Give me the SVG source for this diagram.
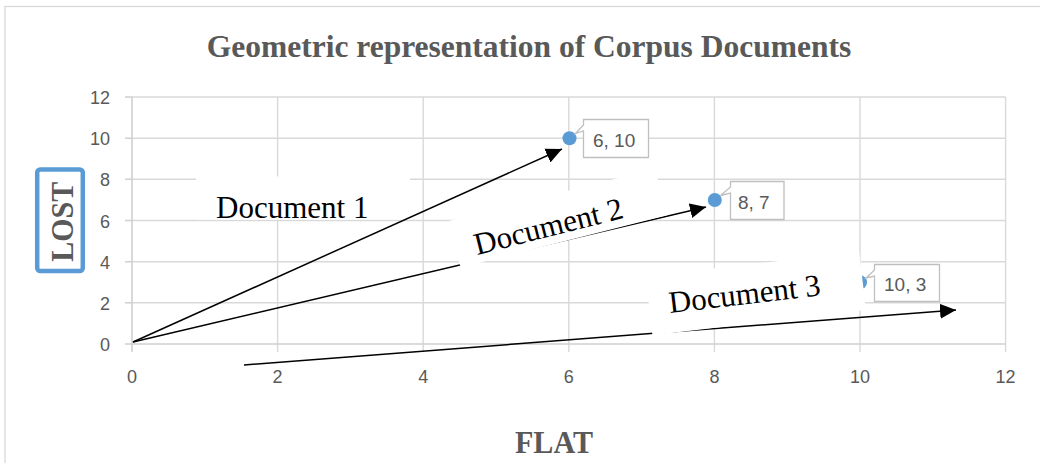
<svg xmlns="http://www.w3.org/2000/svg" width="1040" height="463" viewBox="0 0 1040 463">
<style>
.grid{stroke:#D9D9D9;stroke-width:1.4;fill:none}
.axis{stroke:#D0D0D0;stroke-width:1.6;fill:none}
.tick{font-family:"Liberation Sans",Arial,sans-serif;font-size:18px;fill:#595959}
.dl{font-family:"Liberation Sans",Arial,sans-serif;font-size:19px;fill:#595959}
.ttl{font-family:"Liberation Serif","Times New Roman",serif;font-weight:bold;fill:#595959}
.doc{font-family:"Liberation Serif","Times New Roman",serif;font-size:31px;fill:#000}
.box{fill:#fff;stroke:none}
.lbl{fill:#fff;stroke:#BFBFBF;stroke-width:1.3}
.pt{fill:#5B9BD5}
.arr{stroke:#000;stroke-width:1.5;fill:none;marker-end:url(#ah)}
</style>
<defs>
<marker id="ah" markerUnits="userSpaceOnUse" markerWidth="16" markerHeight="16" viewBox="0 0 16 16" refX="16" refY="8" orient="auto">
<path d="M0,0.5 L16,8 L0,15.5 Z" fill="#000"/>
</marker>
</defs>
<rect x="0" y="0" width="1040" height="463" fill="#fff"/>
<rect x="5" y="6.5" width="1045" height="470" fill="none" stroke="#D9D9D9" stroke-width="1.3"/>
<text class="ttl" x="529" y="57" font-size="31.5" text-anchor="middle">Geometric representation of Corpus Documents</text>
<g id="grid">
<path class="grid" d="M132,97H1005.6M132,138.2H1005.6M132,179.3H1005.6M132,220.5H1005.6M132,261.7H1005.6M132,302.8H1005.6"/>
<path class="grid" d="M277.6,97V352M423.2,97V352M568.8,97V352M714.4,97V352M860,97V352M1005.6,97V352"/>
<path class="axis" d="M125,344H1005.6M132,97V352M125,97H132M125,138.2H132M125,179.3H132M125,220.5H132M125,261.7H132M125,302.8H132"/>
</g>
<g id="yticks" class="tick" text-anchor="end">
<text x="110" y="104">12</text>
<text x="110" y="145.2">10</text>
<text x="110" y="186.3">8</text>
<text x="110" y="227.5">6</text>
<text x="110" y="268.7">4</text>
<text x="110" y="309.8">2</text>
<text x="110" y="351">0</text>
</g>
<g id="xticks" class="tick" text-anchor="middle">
<text x="132" y="383">0</text>
<text x="277.6" y="383">2</text>
<text x="423.2" y="383">4</text>
<text x="568.8" y="383">6</text>
<text x="714.4" y="383">8</text>
<text x="860" y="383">10</text>
<text x="1005.6" y="383">12</text>
</g>
<g id="ylabel">
<rect x="37.2" y="169.5" width="45.6" height="101.6" rx="3" fill="#fff" stroke="#5B9BD5" stroke-width="4.5"/>
<text class="ttl" transform="translate(73,221.7) rotate(-90)" font-size="32" text-anchor="middle" textLength="80" lengthAdjust="spacingAndGlyphs">LOST</text>
</g>
<text id="xlabel" class="ttl" x="515" y="453" font-size="31" textLength="78" lengthAdjust="spacingAndGlyphs">FLAT</text>
<g id="points">
<g id="p1">
<circle class="pt" cx="569.5" cy="138.2" r="7"/>
<path class="lbl" d="M583.5,119.5H648.5V157.5H583.5V131L575.5,133.5L583.5,125Z"/>
<text class="dl" x="593" y="147">6, 10</text>
</g>
<g id="p2">
<circle class="pt" cx="714.8" cy="200" r="7"/>
<path class="lbl" d="M730.5,181.5H784V219.5H730.5V193L720.5,195.5L730.5,187Z"/>
<text class="dl" x="738" y="209">8, 7</text>
</g>
<g id="p3">
<circle class="pt" cx="860" cy="282.2" r="7"/>
<path class="lbl" d="M874.5,264.5H939.5V301.5H874.5V276L866,278L874.5,270Z"/>
<text class="dl" x="884" y="291">10, 3</text>
</g>
</g>
<g id="doc1">
<rect class="box" x="196" y="176.5" width="214" height="43"/>
<text class="doc" x="216" y="218">Document 1</text>
</g>
<g id="connectors">
<line class="arr" x1="133" y1="342" x2="562" y2="149"/>
<line class="arr" x1="133" y1="342" x2="706" y2="207"/>
<line class="arr" x1="244" y1="365" x2="956" y2="310"/>
</g>
<g id="doc2" transform="translate(477,255) rotate(-14.2)">
<rect class="box" x="-19" y="-40" width="213" height="48"/>
<text class="doc" x="0" y="0">Document 2</text>
</g>
<g id="doc3" transform="translate(670,313) rotate(-6.7)">
<rect class="box" x="-20" y="-39" width="215" height="59"/>
<text class="doc" x="0" y="0">Document 3</text>
</g>
</svg>
